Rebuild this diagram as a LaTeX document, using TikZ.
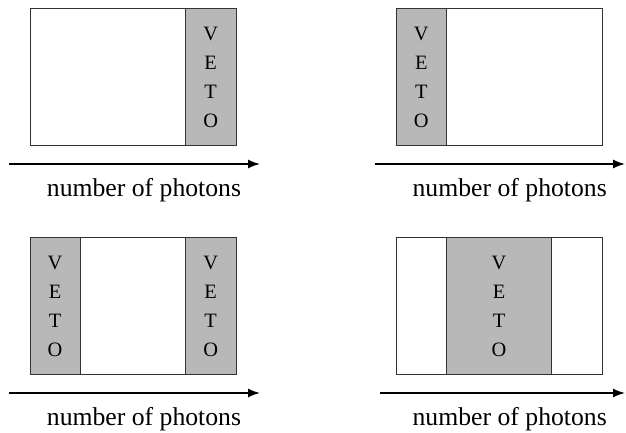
\documentclass[tikz,border=0pt]{standalone}
\usepackage{fontspec}
\setmainfont{Liberation Serif}
\usetikzlibrary{arrows.meta,positioning}
\definecolor{vetogray}{gray}{0.72}

\begin{document}
\begin{tikzpicture}[
            x = 0.5pt, y = -0.5pt, % one unit is one pixel of the sketch
            > = {Latex[length=6pt,width=4.5pt]}, % arrow head style
            box/.style = {draw=black!80, line width=0.5pt, minimum width=103pt, minimum height=68.9pt, inner sep=0pt},
            veto/.style = {box, fill=vetogray, minimum width=25.3pt, align=center, font=\fontsize{10.2}{14.5}\selectfont},
            axis/.style = {->, line width=0.75pt},
            legend/.style = {anchor=base, inner sep=0pt, font=\fontsize{12.85}{15}\selectfont}
        ]
	\useasboundingbox (0,0) rectangle (626,433);

	% veto on the right
	\node[box] (b1) at (133,77) {};
	\node[veto, anchor=north east] (v1) at (b1.north east) {V\\E\\T\\O};
	\coordinate (s1) at (9,164);
	\coordinate (e1) at (260,164);
	\draw[axis] (s1) -- (e1);
	\node[legend] (l1) at (144,196) {number of photons};

	% veto on the left
	\node[box] (b2) at (499,77) {};
	\node[veto, anchor=north west] (v2) at (b2.north west) {V\\E\\T\\O};
	\coordinate (s2) at (375,164);
	\coordinate (e2) at (625,164);
	\draw[axis] (s2) -- (e2);
	\node[legend] (l2) at (509.7,196) {number of photons};

	% veto on both sides
	\node[box] (b3) at (133,306) {};
	\node[veto, anchor=north west, minimum width=25pt] (v3) at (b3.north west) {V\\E\\T\\O};
	\node[veto, anchor=north east] (v4) at (b3.north east) {V\\E\\T\\O};
	\coordinate (s3) at (9,393);
	\coordinate (e3) at (260,393);
	\draw[axis] (s3) -- (e3);
	\node[legend] (l3) at (144,425) {number of photons};

	% veto in the middle
	\node[box] (b4) at (499,306) {};
	\node[veto, minimum width=52.7pt] (v5) at (b4.center) {V\\E\\T\\O};
	\coordinate (s4) at (380,393);
	\coordinate (e4) at (625,393);
	\draw[axis] (s4) -- (e4);
	\node[legend] (l4) at (509.7,425) {number of photons};

\end{tikzpicture}
\end{document}
